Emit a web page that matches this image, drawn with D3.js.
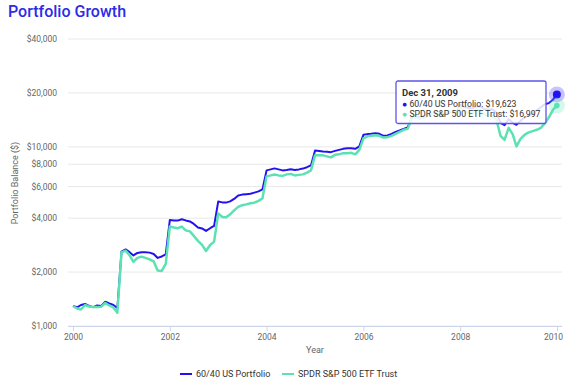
<!DOCTYPE html>
<html>
<head>
<meta charset="utf-8">
<script src="https://cdn.jsdelivr.net/npm/d3@7"></script>
<style>
  body { margin: 0; background: #fff; font-family: Roboto, "Noto Sans", sans-serif; }
  .axis text { fill: #666; font-size: 8.5px; font-family: Roboto, sans-serif; }
</style>
</head>
<body>
<svg id="chart" width="570" height="380"></svg>
<script>
// monthly balances, Jan 2000 .. Dec 2009, last point = Dec 31, 2009
var portfolio6040 = [
  1293, 1272, 1310, 1327, 1293, 1274, 1302, 1293, 1365, 1336, 1310, 1260,
  2601, 2676, 2591, 2476, 2558, 2581, 2581, 2568, 2525, 2399, 2445, 2509,
  3910, 3885, 3875, 3945, 3885, 3835, 3714, 3550, 3505, 3394, 3514, 3620,
  4949, 4898, 4885, 4961, 5123, 5358, 5413, 5442, 5477, 5555, 5641, 5790,
  7390, 7485, 7583, 7485, 7390, 7437, 7505, 7437, 7485, 7563, 7700, 7880,
  9535, 9474, 9413, 9378, 9341, 9499, 9621, 9746, 9834, 9834, 9746, 10060,
  11670, 11780, 11820, 11930, 11820, 11520, 11590, 11820, 12130, 12340, 12600, 12850,
  14650, 14800, 14650, 14800, 15100, 15450, 15350, 15100, 15250, 15550, 15700, 15350,
  17200, 16700, 16500, 16400, 16800, 16850, 16200, 16100, 16200, 15500, 13600, 13200,
  14280, 13620, 13270, 13970, 14620, 15000, 15290, 15990, 16630, 17280, 17550, 18300, 19623
];
var spdr500 = [
  1293, 1252, 1236, 1310, 1285, 1277, 1277, 1282, 1344, 1302, 1269, 1187,
  2574, 2634, 2493, 2278, 2399, 2439, 2399, 2353, 2293, 2042, 2029, 2221,
  3596, 3550, 3514, 3587, 3417, 3373, 3183, 2985, 2835, 2624, 2835, 2958,
  4251, 4063, 4048, 4197, 4418, 4621, 4724, 4773, 4847, 4879, 4993, 5157,
  6842, 6930, 7003, 6930, 6887, 7021, 7066, 6930, 6976, 7021, 7185, 7390,
  8987, 8965, 8965, 8850, 8737, 9023, 9081, 9222, 9222, 9259, 9081, 9621,
  11160, 11450, 11520, 11620, 11520, 11270, 11330, 11520, 11820, 12130, 12450, 12600,
  14340, 14620, 14340, 14520, 15000, 15490, 15290, 14810, 15000, 15490, 15690, 15000,
  16630, 15890, 15490, 15390, 16090, 16090, 15090, 15000, 14900, 14150, 11520, 10940,
  12770, 11750, 10060, 11080, 11670, 12050, 12240, 12450, 12770, 13530, 14620, 16090, 16997
];
var seriesNames = ["60/40 US Portfolio", "SPDR S&P 500 ETF Trust"];
var yTickValues = [1000, 2000, 4000, 6000, 8000, 10000, 20000, 40000];
var xTickYears = [2000, 2002, 2004, 2006, 2008, 2010];

var dates = d3.timeMonth.range(new Date(2000, 0, 1), new Date(2010, 0, 1));
dates.push(new Date(2009, 11, 31));

var colors = ["#2212f2", "#5ce2b2"];
var margin = {top: 39, right: 13, bottom: 54, left: 73};
var W = 570, H = 380;

var svg = d3.select("#chart");

var x = d3.scaleTime()
  .domain([new Date(2000, 0, 1), new Date(2010, 0, 1)])
  .range([margin.left, 557]);
var y = d3.scaleLog()
  .domain([1000, 40000])
  .range([H - margin.bottom, margin.top]);

var plotLeft = 68, plotRight = 562;

// title
svg.append("text")
  .attr("x", 8).attr("y", 17)
  .style("font-family", "Roboto, sans-serif")
  .style("font-size", "16px")
  .style("font-weight", 500)
  .attr("fill", "#2b2be8")
  .text("Portfolio Growth");

// gridlines
svg.append("g").selectAll("line")
  .data(yTickValues)
  .enter().append("line")
  .attr("x1", plotLeft).attr("x2", plotRight)
  .attr("y1", function(d) { return y(d); })
  .attr("y2", function(d) { return y(d); })
  .attr("stroke", "#e8e8e8")
  .attr("stroke-width", 1);

// y axis labels
var yAxis = d3.axisLeft(y)
  .tickValues(yTickValues)
  .tickFormat(d3.format("$,"))
  .tickSize(0)
  .tickPadding(0);
svg.append("g")
  .attr("class", "axis")
  .attr("transform", "translate(" + (plotLeft - 11) + ",0)")
  .call(yAxis)
  .call(function(g) { g.select(".domain").remove(); });

// x axis
var xAxis = d3.axisBottom(x)
  .tickValues(xTickYears.map(function(yr) { return new Date(yr, 0, 1); }))
  .tickFormat(d3.timeFormat("%Y"))
  .tickSize(5)
  .tickSizeOuter(0)
  .tickPadding(3);
var gx = svg.append("g")
  .attr("class", "axis")
  .attr("transform", "translate(0," + y(1000) + ")")
  .call(xAxis);
gx.select(".domain").remove();
gx.selectAll(".tick line").attr("stroke", "#ccd6eb");
// keep the last label inside the plot like the original
gx.selectAll(".tick text").filter(function(d, i, n) { return i === n.length - 1; })
  .attr("dx", -4);
gx.append("line")
  .attr("x1", plotLeft).attr("x2", plotRight)
  .attr("y1", 0.5).attr("y2", 0.5)
  .attr("stroke", "#ccd6eb");

// axis titles
svg.append("text")
  .attr("x", (plotLeft + plotRight) / 2).attr("y", 353)
  .attr("text-anchor", "middle")
  .style("font-size", "9px")
  .attr("fill", "#666")
  .text("Year");
svg.append("text")
  .attr("transform", "translate(18,183) rotate(-90)")
  .attr("text-anchor", "middle")
  .style("font-size", "9px")
  .attr("fill", "#666")
  .text("Portfolio Balance ($)");

// lines
var line = d3.line()
  .x(function(d, i) { return x(dates[i]); })
  .y(function(d) { return y(d); });

var seriesData = [portfolio6040, spdr500];
svg.append("g").selectAll("path")
  .data(seriesData)
  .enter().append("path")
  .attr("d", line)
  .attr("fill", "none")
  .attr("stroke", function(d, i) { return colors[i]; })
  .attr("stroke-width", function(d, i) { return i === 0 ? 2 : 2.5; })
  .attr("stroke-linejoin", "round");

// hover markers at last point
var last = dates.length - 1;
seriesData.forEach(function(s, i) {
  svg.append("circle")
    .attr("cx", x(dates[last])).attr("cy", y(s[last]))
    .attr("r", 8)
    .attr("fill", colors[i])
    .attr("fill-opacity", 0.25);
  svg.append("circle")
    .attr("cx", x(dates[last])).attr("cy", y(s[last]))
    .attr("r", i === 0 ? 4 : 2.8)
    .attr("fill", colors[i]);
});

// tooltip
var tip = svg.append("g").attr("transform", "translate(396,81)");
tip.append("rect")
  .attr("width", 150).attr("height", 42.5)
  .attr("rx", 2)
  .attr("fill", "rgba(255,255,255,0.85)")
  .attr("stroke", "#5d54ea")
  .attr("stroke-width", 1.3);
tip.append("text")
  .attr("x", 6).attr("y", 14.5)
  .style("font-size", "9.5px")
  .style("font-weight", "bold")
  .attr("fill", "#333")
  .text(d3.timeFormat("%b %d, %Y")(dates[last]));
var fmt = d3.format("$,.0f");
seriesData.forEach(function(s, i) {
  var row = tip.append("text")
    .attr("x", 6).attr("y", 25.5 + i * 10.3)
    .style("font-size", "8.7px")
    .attr("fill", "#333");
  row.append("tspan").attr("fill", colors[i]).text("\u25CF ");
  row.append("tspan").text(seriesNames[i] + ": " + fmt(s[last]));
});

// legend
var legendX = [180, 282];
var legend = svg.append("g");
seriesNames.forEach(function(name, i) {
  legend.append("line")
    .attr("x1", legendX[i]).attr("x2", legendX[i] + 12)
    .attr("y1", 374).attr("y2", 374)
    .attr("stroke", colors[i])
    .attr("stroke-width", 2);
  legend.append("text")
    .attr("x", legendX[i] + 16).attr("y", 377)
    .style("font-size", "9px")
    .attr("fill", "#333")
    .text(name);
});
</script>
</body>
</html>
